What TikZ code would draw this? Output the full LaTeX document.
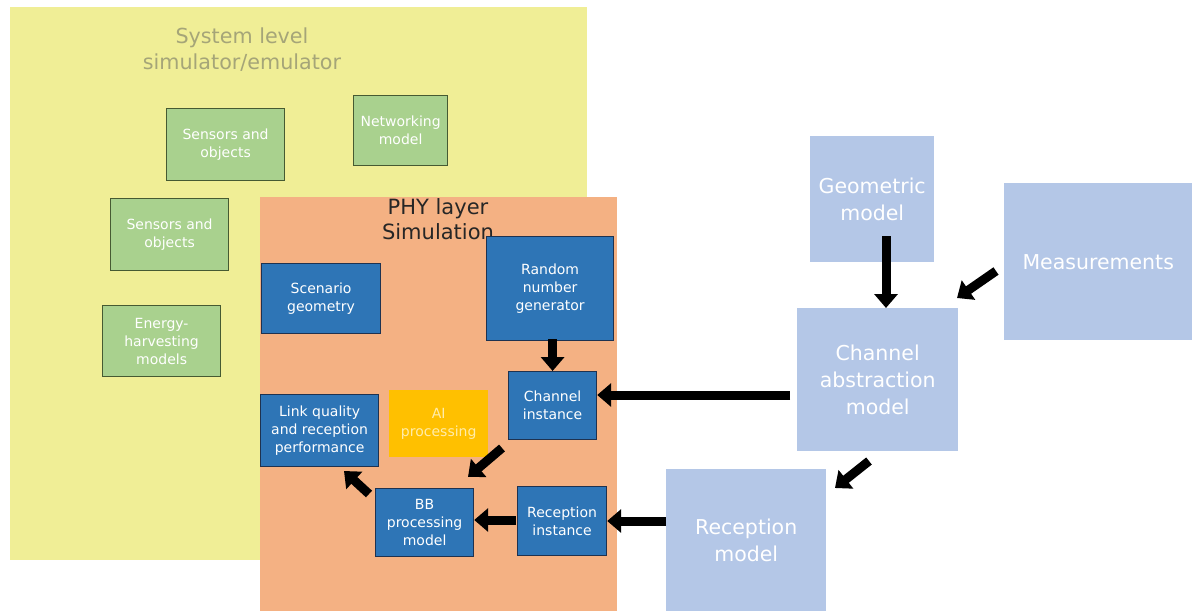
\documentclass[tikz,border=0pt]{standalone}
\usepackage{fontspec}
\setmainfont{DejaVu Sans}
\usetikzlibrary{arrows.meta}
\definecolor{sysyellow}{RGB}{240,238,150}
\definecolor{titlegray}{RGB}{165,165,120}
\definecolor{grfill}{RGB}{169,209,142}
\definecolor{grline}{RGB}{70,90,50}
\definecolor{phyorange}{RGB}{244,177,131}
\definecolor{bluefill}{RGB}{46,117,182}
\definecolor{blueline}{RGB}{30,50,80}
\definecolor{lightblue}{RGB}{180,199,231}
\definecolor{aiorange}{RGB}{255,192,0}
\definecolor{aitext}{RGB}{255,236,170}
\tikzset{
  greenbox/.style={draw=grline, line width=1.2pt, fill=grfill, text=white, anchor=north west, inner sep=0pt, align=center, font=\fontsize{14}{18}\selectfont},
  bluebox/.style={draw=blueline, line width=1.2pt, fill=bluefill, text=white, anchor=north west, inner sep=0pt, align=center, font=\fontsize{14}{18}\selectfont},
  lbbox/.style={fill=lightblue, text=white, anchor=north west, inner sep=0pt, align=center, font=\fontsize{20.5}{27}\selectfont},
  aibox/.style={fill=aiorange, text=aitext, anchor=north west, inner sep=0pt, align=center, font=\fontsize{14}{18}\selectfont},
  fatarrow/.style={line width=9pt, -{Triangle[length=14pt,width=23pt]}, black},
}
\begin{document}
\begin{tikzpicture}[x=1pt,y=-1pt]
\useasboundingbox (0,0) rectangle (1192,611);
\fill[white] (0,0) rectangle (1192,611);
% system level region
\node[fill=sysyellow, anchor=north west, minimum width=577pt, minimum height=553pt, inner sep=0pt] (sys) at (10,7) {};
\node[text=titlegray, align=center, font=\fontsize{20.7}{26}\selectfont] (systitle) at (242,50) {System level\\simulator/emulator};
\node[greenbox, minimum width=118pt, minimum height=72pt] (sens1) at (166,108) {Sensors and\\objects};
\node[greenbox, minimum width=94pt, minimum height=70pt] (net) at (353,95) {Networking\\model};
\node[greenbox, minimum width=118pt, minimum height=72pt] (sens2) at (110,198) {Sensors and\\objects};
\node[greenbox, minimum width=118pt, minimum height=71pt] (energy) at (102,305) {Energy-\\harvesting\\models};
% PHY region
\node[fill=phyorange, anchor=north west, minimum width=357pt, minimum height=414pt, inner sep=0pt] (phy) at (260,197) {};
\node[text=black!85, align=center, font=\fontsize{21}{25}\selectfont] (phytitle) at (438,219) {PHY layer\\Simulation};
\node[bluebox, minimum width=119pt, minimum height=70pt] (scen) at (261,263) {Scenario\\geometry};
\node[bluebox, minimum width=127pt, minimum height=104pt] (rng) at (486,236) {Random\\number\\generator};
\node[bluebox, minimum width=88pt, minimum height=68pt] (chinst) at (508,371) {Channel\\instance};
\node[aibox, minimum width=99pt, minimum height=67pt] (ai) at (389,390) {AI\\processing};
\node[bluebox, minimum width=118pt, minimum height=72pt] (link) at (260,394) {Link quality\\and reception\\performance};
\node[bluebox, minimum width=98pt, minimum height=68pt] (bb) at (375,488) {BB\\processing\\model};
\node[bluebox, minimum width=89pt, minimum height=69pt] (rxinst) at (517,486) {Reception\\instance};
% channel modelling blocks
\node[lbbox, minimum width=124pt, minimum height=126pt] (geo) at (810,136) {Geometric\\model};
\node[lbbox, minimum width=188pt, minimum height=157pt] (meas) at (1004,183) {Measurements};
\node[lbbox, minimum width=161pt, minimum height=143pt] (cam) at (797,308) {Channel\\abstraction\\model};
\node[lbbox, minimum width=160pt, minimum height=142pt] (rxm) at (666,469) {Reception\\model};
% arrows
\coordinate (a1s) at (551,339);
\draw[fatarrow] (chinst.north |- a1s) -- (chinst.north);
\coordinate (a2s) at (886,236);
\draw[fatarrow] (a2s) -- (cam.north -| a2s);
\coordinate (a3s) at (996,271);
\coordinate (a3e) at (957,298);
\draw[fatarrow] (a3s) -- (a3e);
\coordinate (a4s) at (790,395);
\draw[fatarrow] (a4s) -- (chinst.east |- a4s);
\coordinate (a5s) at (869,461);
\coordinate (a5e) at (835,488);
\draw[fatarrow] (a5s) -- (a5e);
\coordinate (a6s) at (666,521);
\draw[fatarrow] (a6s) -- (rxinst.east |- a6s);
\coordinate (a7s) at (516,520);
\draw[fatarrow] (a7s) -- (bb.east |- a7s);
\coordinate (a8s) at (502,448);
\coordinate (a8e) at (468,477);
\draw[fatarrow] (a8s) -- (a8e);
\coordinate (a9s) at (369,494);
\coordinate (a9e) at (344,471);
\draw[fatarrow] (a9s) -- (a9e);
\end{tikzpicture}
\end{document}
